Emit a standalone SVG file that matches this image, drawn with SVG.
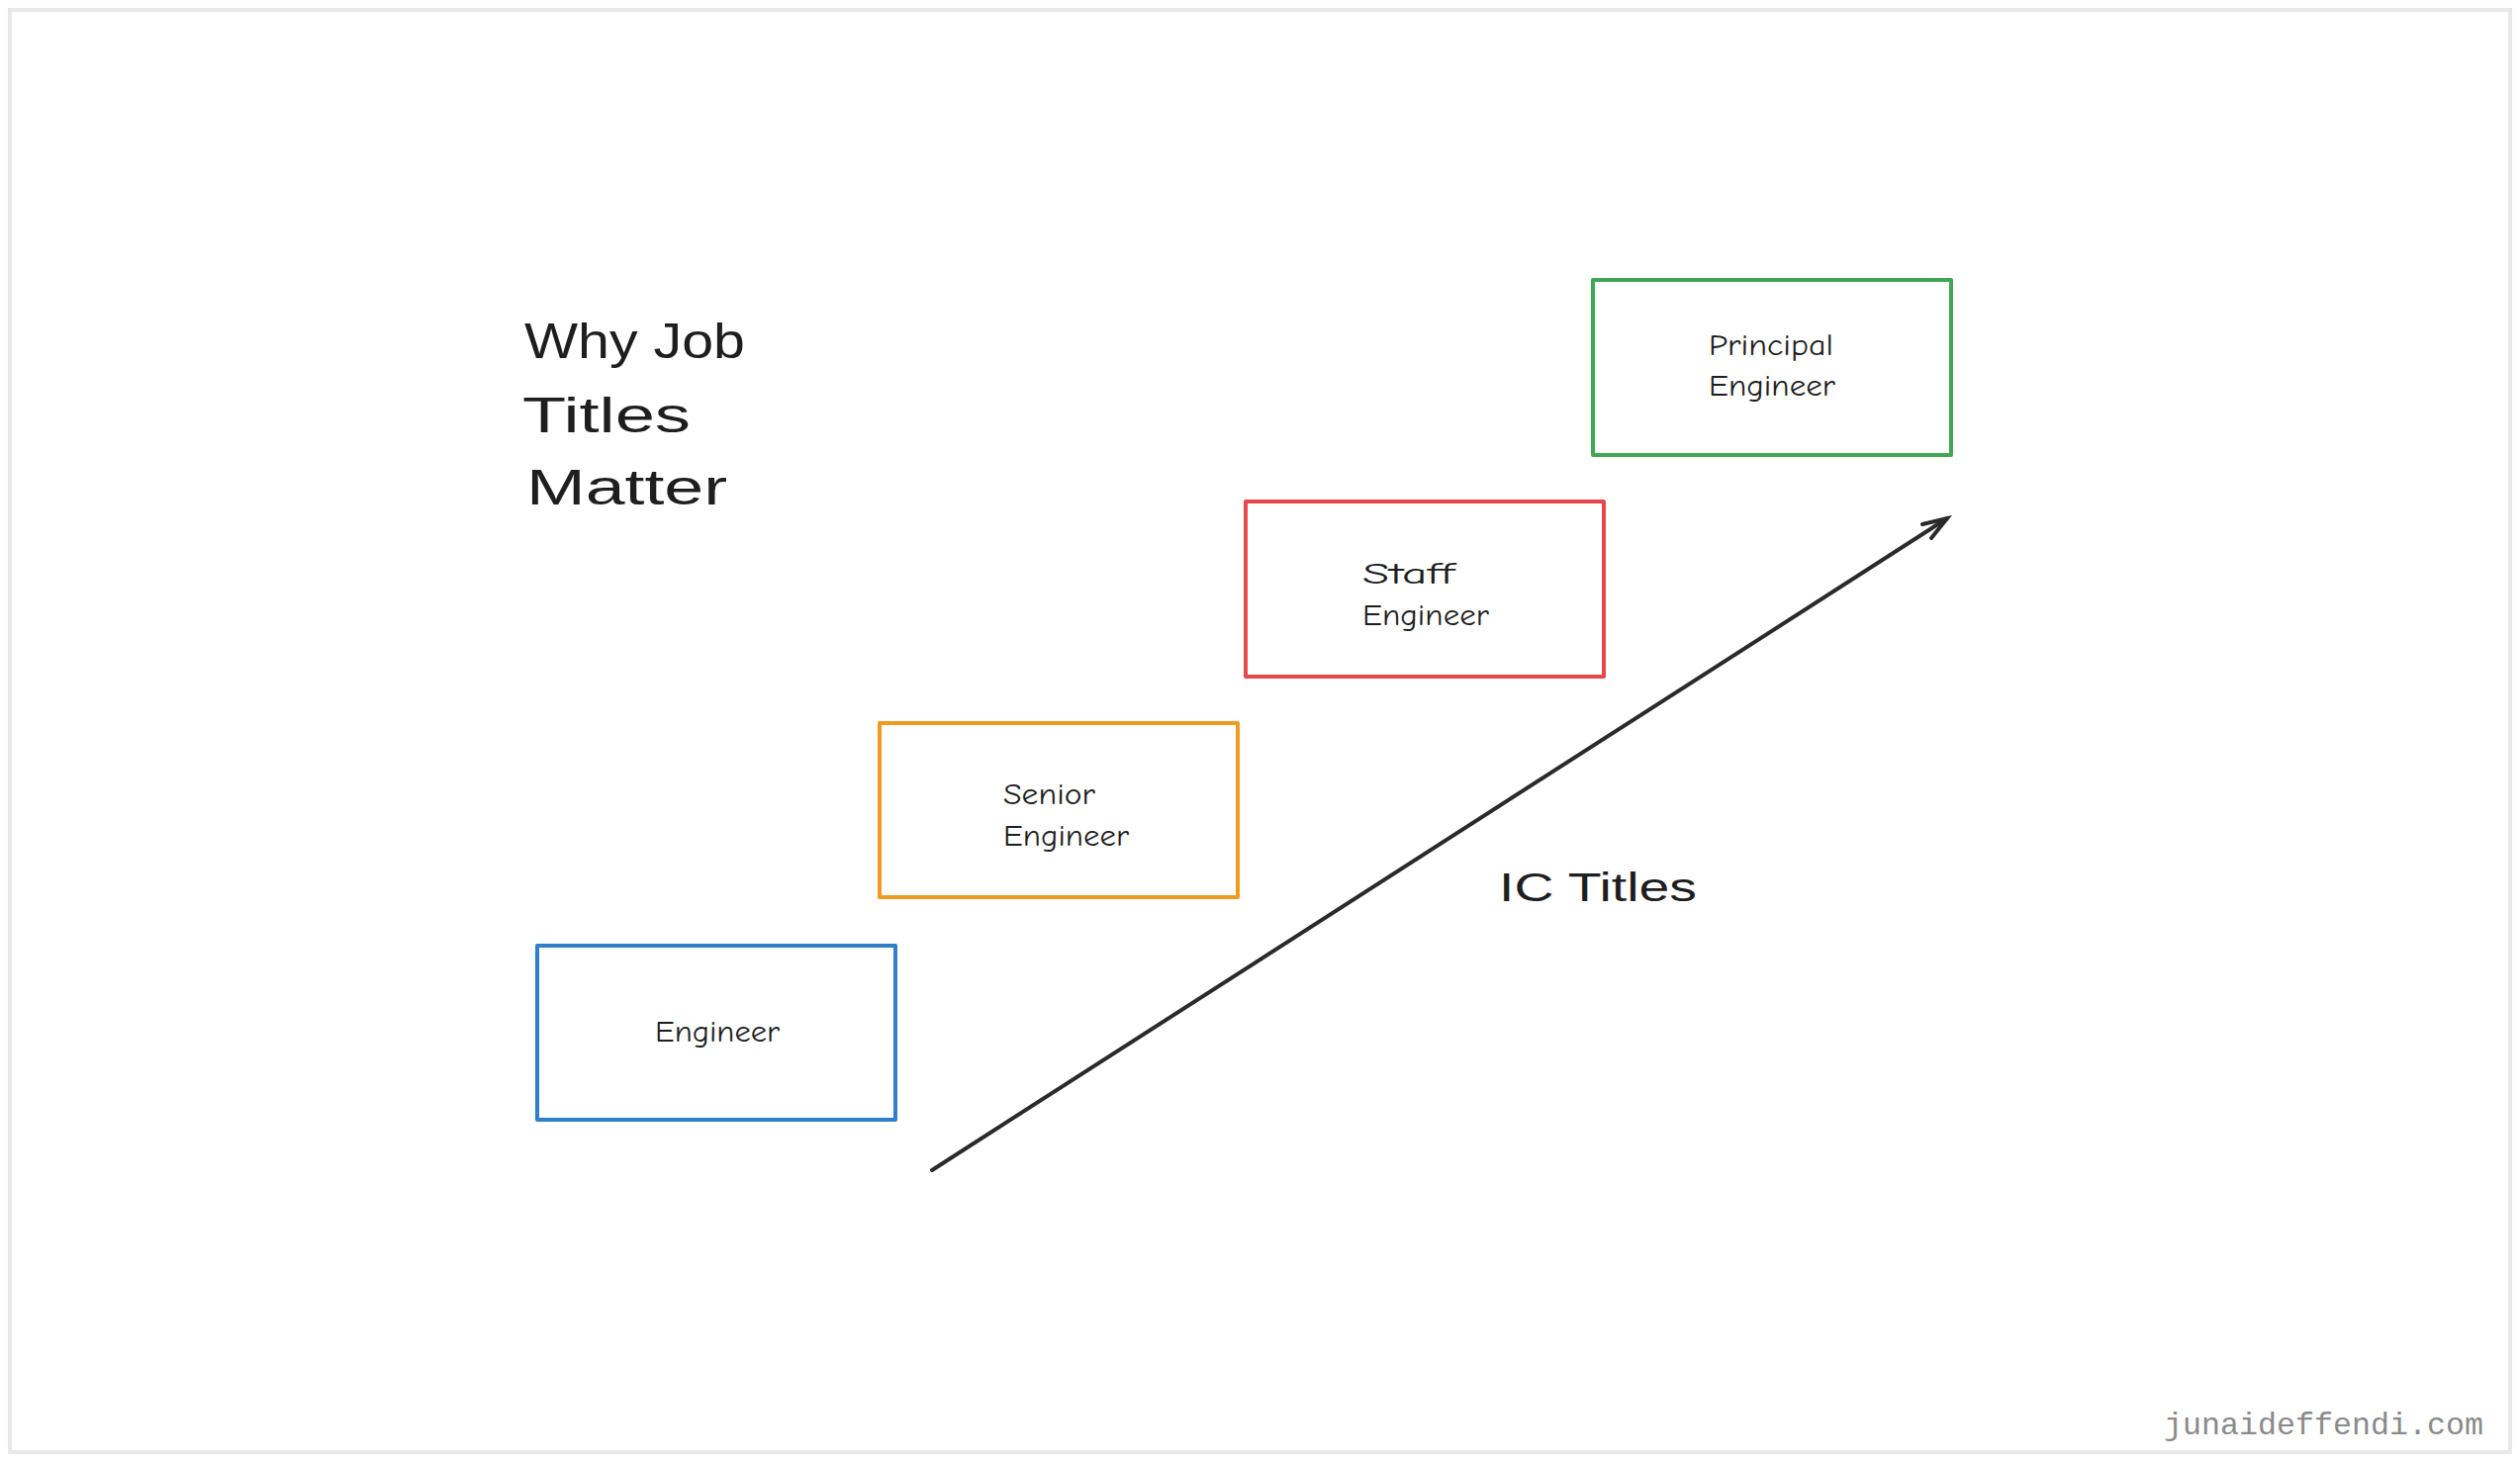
<svg xmlns="http://www.w3.org/2000/svg" width="2547" height="1477" viewBox="0 0 2547 1477">
<style>
.box{fill:#ffffff;stroke-width:4;stroke-linejoin:round}
.lbl{font-family:"Comic Neue","Liberation Sans",sans-serif;font-size:30px;fill:#1e1e1e}
.big{font-family:"Liberation Sans",sans-serif;fill:#1e1e1e}
.conn{stroke:#2a2a2a;stroke-width:4;stroke-linecap:round;fill:none}
</style>
<rect x="0" y="0" width="2547" height="1477" fill="#ffffff"/>
<rect x="10" y="10" width="2527" height="1458" fill="#ffffff" stroke="#e8e8e8" stroke-width="4"/>
<g id="title">
<text class="big" font-size="50" x="530" y="362" textLength="223" lengthAdjust="spacingAndGlyphs">Why Job</text>
<text class="big" font-size="50" x="528" y="437" textLength="170" lengthAdjust="spacingAndGlyphs">Titles</text>
<text class="big" font-size="50" x="532" y="510" textLength="203" lengthAdjust="spacingAndGlyphs">Matter</text>
</g>
<g id="node-engineer">
<rect class="box" x="543" y="956" width="362" height="176" stroke="#2f80c9"/>
<text class="lbl" x="662" y="1053" textLength="126" lengthAdjust="spacingAndGlyphs">Engineer</text>
</g>
<g id="node-senior">
<rect class="box" x="889" y="731" width="362" height="176" stroke="#f29a1f"/>
<text class="lbl" x="1014" y="813" textLength="93" lengthAdjust="spacingAndGlyphs">Senior</text>
<text class="lbl" x="1014" y="855" textLength="127" lengthAdjust="spacingAndGlyphs">Engineer</text>
</g>
<g id="node-staff">
<rect class="box" x="1259" y="507" width="362" height="177" stroke="#e5484d"/>
<text class="lbl" x="1377" y="590" textLength="93" lengthAdjust="spacingAndGlyphs">Staff</text>
<text class="lbl" x="1377" y="632" textLength="128" lengthAdjust="spacingAndGlyphs">Engineer</text>
</g>
<g id="node-principal">
<rect class="box" x="1610" y="283" width="362" height="177" stroke="#40a854"/>
<text class="lbl" x="1727" y="359" textLength="126" lengthAdjust="spacingAndGlyphs">Principal</text>
<text class="lbl" x="1727" y="400" textLength="128" lengthAdjust="spacingAndGlyphs">Engineer</text>
</g>
<g id="connectors">
<path class="conn" d="M942 1183 L1968 524"/>
<path class="conn" d="M1943 530 L1968 524 L1952 544"/>
</g>
<g id="ic-titles">
<text class="big" font-size="40" x="1515" y="911" textLength="200" lengthAdjust="spacingAndGlyphs">IC Titles</text>
</g>
<text x="2187" y="1450" font-family="Liberation Mono, monospace" font-size="32" fill="#8a8a8a" textLength="323" lengthAdjust="spacingAndGlyphs">junaideffendi.com</text>
</svg>
